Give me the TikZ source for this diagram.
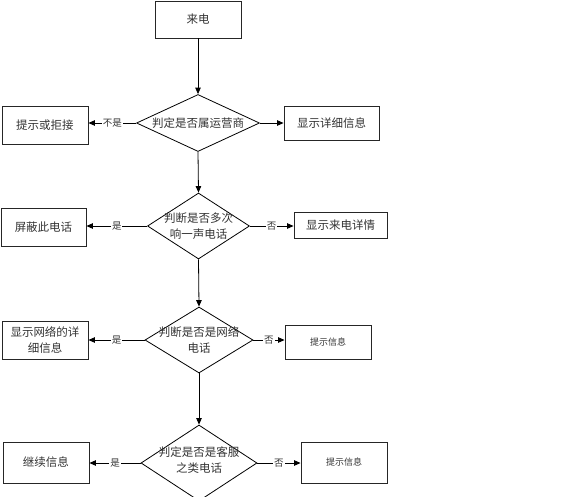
\documentclass[tikz,border=0pt]{standalone}
\usepackage{fontspec}
\newfontfamily\cjk{Noto Sans CJK SC}
\usetikzlibrary{shapes.geometric,arrows.meta}
\tikzset{
  box/.style={draw=black!85,line width=0.9pt,rectangle,inner sep=1pt,font=\cjk\fontsize{11.5}{16}\selectfont,align=center,text=black!80},
  smallbox/.style={box,font=\cjk\fontsize{9}{12}\selectfont},
  dia/.style={draw=black,line width=0.8pt,diamond,inner sep=0pt},
  diatext/.style={font=\cjk\fontsize{11.5}{16.5}\selectfont,align=center,text=black!80,inner sep=0pt},
  conn/.style={draw=black,line width=0.8pt,-{Triangle[length=6.5pt,width=5.5pt]}},
  lbl/.style={fill=white,inner sep=0.8pt,font=\cjk\fontsize{9.5}{11}\selectfont,text=black!80}
}
\begin{document}
\begin{tikzpicture}[x=1pt,y=-1pt]
\useasboundingbox (0,0) rectangle (576,496);
% boxes
\node[box,minimum width=86,minimum height=37] (start) at (198,19.5) {来电};
\node[box,minimum width=86,minimum height=38] (b1) at (45,125) {提示或拒接};
\node[box,minimum width=95,minimum height=34] (r1) at (331.5,123) {显示详细信息};
\node[box,minimum width=85,minimum height=38] (b2) at (43.5,227) {屏蔽此电话};
\node[box,minimum width=93,minimum height=26] (r2) at (340.5,225) {显示来电详情};
\node[box,minimum width=86,minimum height=38] (b3) at (45,340) {显示网络的详\\细信息};
\node[smallbox,minimum width=86,minimum height=34] (r3) at (328,342) {提示信息};
\node[box,minimum width=86,minimum height=41] (b4) at (46,462.5) {继续信息};
\node[smallbox,minimum width=86,minimum height=41] (r4) at (344,462.5) {提示信息};
% diamonds
\node[dia,minimum width=123,minimum height=57] (d1) at (198,123) {};
\node[diatext] (t1) at (198,123) {判定是否属运营商};
\node[dia,minimum width=102,minimum height=66] (d2) at (198.5,226) {};
\node[diatext] (t2) at (198.5,226) {判断是否多次\\响一声电话};
\node[dia,minimum width=108,minimum height=66] (d3) at (199,340) {};
\node[diatext] (t3) at (199,340) {判断是否是网络\\电话};
\node[dia,minimum width=116,minimum height=76] (d4) at (199,463) {};
\node[diatext] (t4) at (199,460) {判定是否是客服\\之类电话};
% vertical connectors
\draw[conn] (start.south) -- (d1.north);
\draw[conn] (d1.south) -- (d2.north);
\draw[conn] (d2.south) -- (d3.north);
\draw[conn] (d3.south) -- (d4.north);
% side connectors
\draw[conn] (d1.west) -- node[lbl] {不是} (d1.west -| b1.east);
\draw[conn] (d1.east) -- (d1.east -| r1.west);
\draw[conn] (d2.west) -- node[lbl] {是} (d2.west -| b2.east);
\draw[conn] (d2.east) -- node[lbl] {否} (d2.east -| r2.west);
\draw[conn] (d3.west) -- node[lbl] {是} (d3.west -| b3.east);
\draw[conn] (d3.east) -- node[lbl] {否} (d3.east -| r3.west);
\draw[conn] (d4.west) -- node[lbl] {是} (d4.west -| b4.east);
\draw[conn] (d4.east) -- node[lbl] {否} (d4.east -| r4.west);
\end{tikzpicture}
\end{document}
